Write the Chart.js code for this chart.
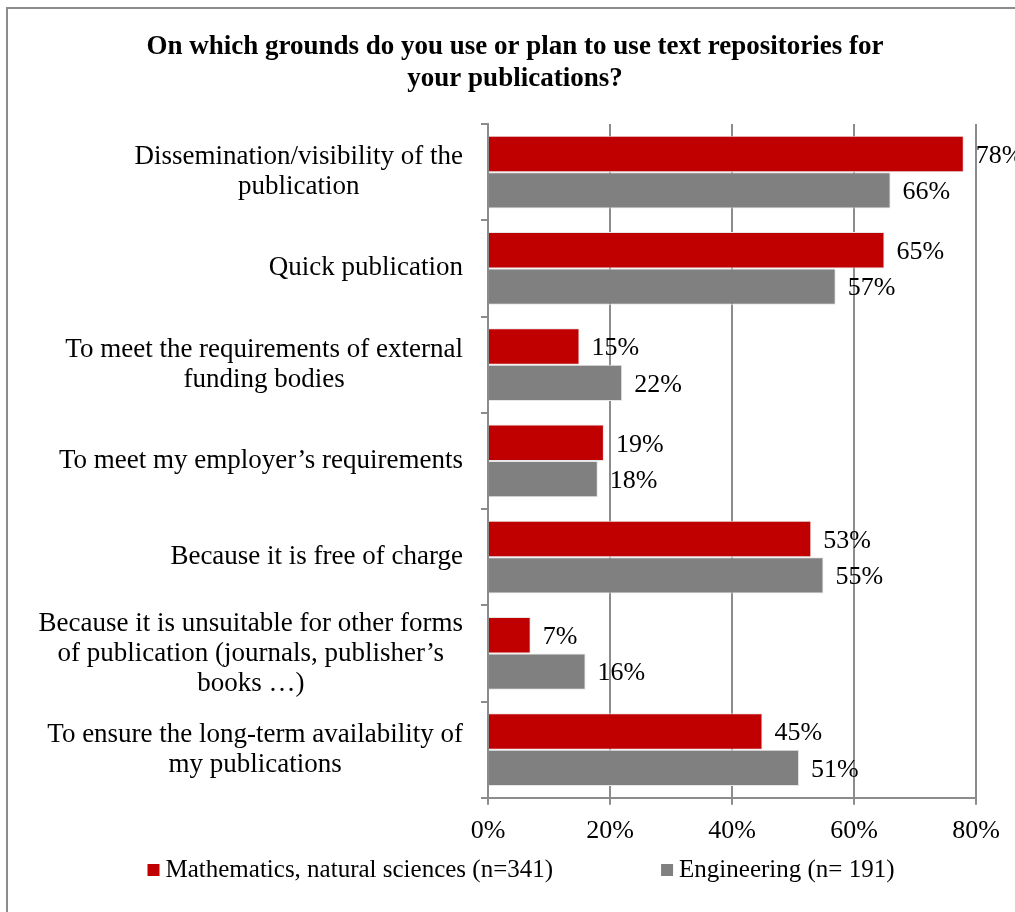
<!DOCTYPE html>
<html>
<head>
<meta charset="utf-8">
<script src="https://cdn.jsdelivr.net/npm/chart.js@4.4.1/dist/chart.umd.min.js"></script>
<style>
    html, body { margin: 0; padding: 0; background: #fff; overflow: hidden; }
    .frame {
        position: absolute; left: 6px; top: 7px; width: 1100px; height: 1000px;
        border-left: 2px solid #8c8c8c; border-top: 2px solid #8c8c8c;
    }
    .chart-box { position: absolute; left: 7px; top: 8px; width: 1016px; height: 904px; }
</style>
</head>
<body>
<div class="frame"></div>
<div class="chart-box"><canvas id="reasonsChart"></canvas></div>
<script>
const titleLines = ['On which grounds do you use or plan to use text repositories for', 'your publications?'];

// each category is split into the lines it wraps to
const categories = [
    ['Dissemination/visibility of the', 'publication'],
    ['Quick publication'],
    ['To meet the requirements of external', 'funding bodies'],
    ['To meet my employer’s requirements'],
    ['Because it is free of charge'],
    ['Because it is unsuitable for other forms', 'of publication (journals, publisher’s', 'books …)'],
    ['To ensure the long-term availability of', 'my publications']
];

const seriesNames = ['Mathematics, natural sciences (n=341)', 'Engineering (n= 191)'];
const mathValues = [78, 65, 15, 19, 53, 7, 45];
const engValues = [66, 57, 22, 18, 55, 16, 51];
const xTicks = [0, 20, 40, 60, 80];

const fontFamily = "'Liberation Serif', 'Times New Roman', serif";
const gridColor = '#8c8c8c';

// category names, centred line by line and right-aligned as a block
const categoryLabels = {
    id: 'categoryLabels',
    afterDraw(chart) {
        const ctx = chart.ctx;
        const y = chart.scales.y;
        const right = y.right - 25;
        const lineH = 30;
        ctx.save();
        ctx.font = '27px ' + fontFamily;
        ctx.fillStyle = '#000';
        ctx.textAlign = 'center';
        ctx.textBaseline = 'middle';
        categories.forEach((lines, i) => {
            const maxW = Math.max(...lines.map(l => ctx.measureText(l).width));
            const cx = right - maxW / 2;
            const cy = y.getPixelForValue(i);
            lines.forEach((line, j) => {
                ctx.fillText(line, cx, cy + (j - (lines.length - 1) / 2) * lineH);
            });
        });
        ctx.restore();
    }
};

// percentage labels just past the end of each bar
const valueLabels = {
    id: 'valueLabels',
    afterDatasetsDraw(chart) {
        const ctx = chart.ctx;
        ctx.save();
        ctx.font = '26px ' + fontFamily;
        ctx.fillStyle = '#000';
        ctx.textAlign = 'left';
        ctx.textBaseline = 'middle';
        chart.data.datasets.forEach((ds, di) => {
            chart.getDatasetMeta(di).data.forEach((bar, i) => {
                ctx.fillText(ds.data[i] + '%', bar.x + 12, bar.y + 2);
            });
        });
        ctx.restore();
    }
};

// legend row under the axis, wider spacing than the built-in one allows
const bottomLegend = {
    id: 'bottomLegend',
    afterDraw(chart) {
        const ctx = chart.ctx;
        const box = 12, gap = 6, spacing = 108;
        ctx.save();
        ctx.font = '25px ' + fontFamily;
        ctx.textBaseline = 'middle';
        ctx.textAlign = 'left';
        const items = chart.data.datasets.map(ds => ({
            text: ds.label, color: ds.backgroundColor, w: box + gap + ctx.measureText(ds.label).width
        }));
        const total = items.reduce((s, it) => s + it.w, 0) + spacing * (items.length - 1);
        let x = chart.width / 2 + 6 - total / 2;
        const yMid = chart.height - 42;
        items.forEach(it => {
            ctx.fillStyle = it.color;
            ctx.fillRect(x, yMid - box / 2, box, box);
            ctx.fillStyle = '#000';
            ctx.fillText(it.text, x + box + gap, yMid);
            x += it.w + spacing;
        });
        ctx.restore();
    }
};

new Chart(document.getElementById('reasonsChart'), {
    type: 'bar',
    data: {
        labels: categories.map(c => c.join(' ')),
        datasets: [{
            label: seriesNames[0],
            data: mathValues,
            backgroundColor: '#c00000',
            borderColor: '#e6e6e6',
            borderWidth: 1
        }, {
            label: seriesNames[1],
            data: engValues,
            backgroundColor: '#808080',
            borderColor: '#e6e6e6',
            borderWidth: 1
        }]
    },
    options: {
        indexAxis: 'y',
        responsive: true,
        maintainAspectRatio: false,
        animation: false,
        categoryPercentage: 0.756,
        barPercentage: 1,
        layout: { padding: { left: 47, right: 47, top: 0, bottom: 54 } },
        plugins: {
            legend: { display: false },
            tooltip: { enabled: false },
            title: {
                display: true,
                text: titleLines,
                color: '#000',
                font: { family: fontFamily, size: 27, weight: 'bold', lineHeight: 32 / 27 },
                padding: { top: 23, bottom: 29 }
            }
        },
        scales: {
            x: {
                min: 0,
                max: 80,
                afterBuildTicks: s => { s.ticks = xTicks.map(v => ({ value: v })); },
                grid: { color: gridColor, lineWidth: 2, drawTicks: true, tickLength: 7 },
                border: { display: true, color: gridColor, width: 2 },
                ticks: {
                    color: '#000',
                    padding: 11,
                    font: { family: fontFamily, size: 26 },
                    callback: v => v + '%'
                }
            },
            y: {
                afterFit: s => { s.width = 434; },
                grid: { display: true, offset: true, drawOnChartArea: false, drawTicks: true, tickLength: 7, color: gridColor, lineWidth: 2 },
                border: { display: true, color: gridColor, width: 2 },
                ticks: { display: false }
            }
        }
    },
    plugins: [categoryLabels, valueLabels, bottomLegend]
});
</script>
</body>
</html>
